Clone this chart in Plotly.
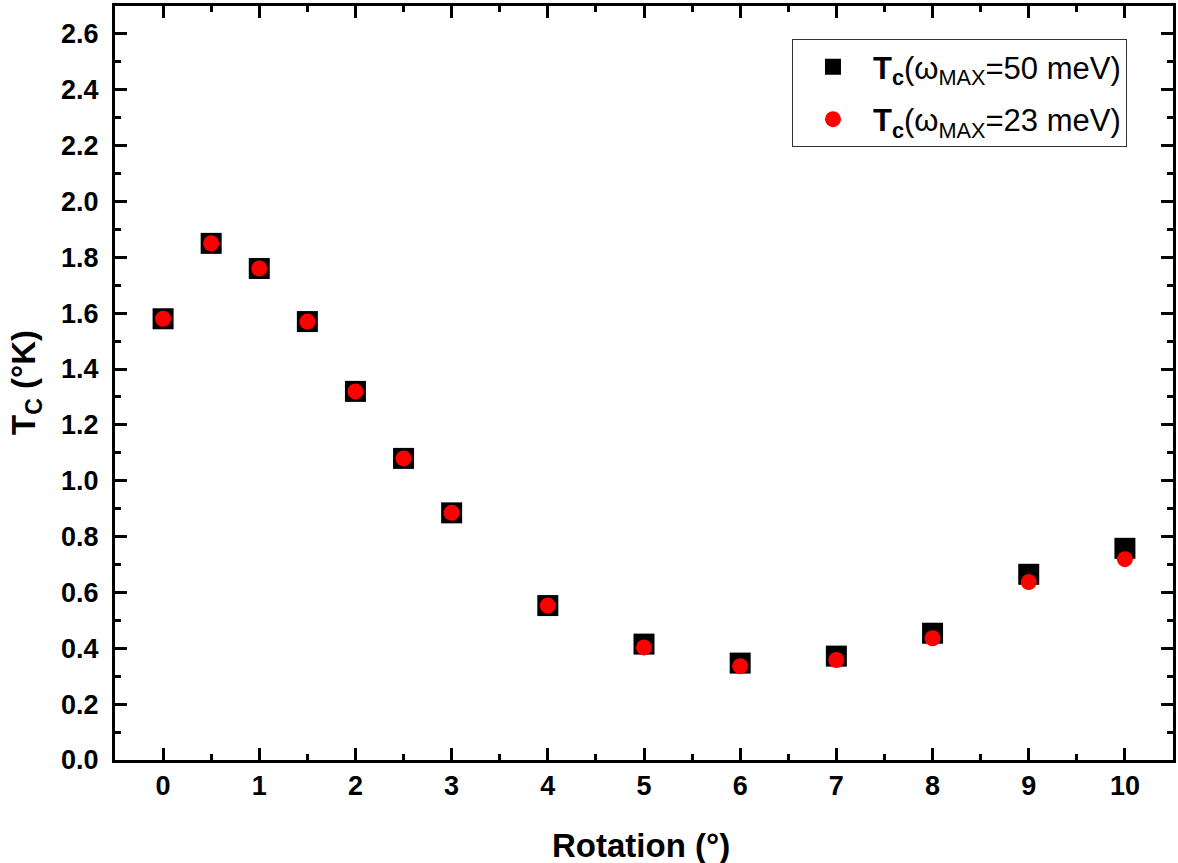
import plotly.graph_objects as go

rotation = [0, 0.5, 1, 1.5, 2, 2.5, 3, 4, 5, 6, 7, 8, 9, 10]
tc_50 = [1.58, 1.85, 1.76, 1.57, 1.32, 1.08, 0.885, 0.553, 0.415, 0.347, 0.372, 0.454, 0.665, 0.758]
tc_23 = [1.58, 1.85, 1.76, 1.57, 1.32, 1.08, 0.885, 0.553, 0.403, 0.336, 0.358, 0.436, 0.637, 0.719]

x_title = "<b>Rotation (°)</b>"
y_title = "<b>T<sub>C</sub> (°K)</b>"
legend_50 = "<b>T<sub>c</sub></b>(ω<sub>MAX</sub>=50 meV)"
legend_23 = "<b>T<sub>c</sub></b>(ω<sub>MAX</sub>=23 meV)"

FONT = "Arial, Liberation Sans, sans-serif"

fig = go.Figure()
fig.add_trace(go.Scatter(
    x=rotation, y=tc_50, mode="markers", name=legend_50, legendgroup="a",
    marker=dict(symbol="square", size=21, color="black", line=dict(width=0)),
))
fig.add_trace(go.Scatter(
    x=rotation, y=tc_23, mode="markers", name=legend_23, legendgroup="b",
    marker=dict(symbol="circle", size=16, color="#ff0000", line=dict(width=0)),
))

axis_common = dict(
    showline=True, linecolor="black", linewidth=3, mirror="ticks",
    ticks="inside", ticklen=12, tickwidth=3, tickcolor="black",
    showgrid=False, zeroline=False, automargin=False,
    tickfont=dict(family=FONT, size=27, color="black", weight="bold"),
)

fig.update_xaxes(
    range=[-0.5, 10.5], tick0=0, dtick=1,
    minor=dict(dtick=0.5, ticks="inside", ticklen=6, tickwidth=3, tickcolor="black", showgrid=False),
    ticklabelstandoff=0,
    **axis_common,
)
fig.update_yaxes(
    range=[0, 2.7], tick0=0, dtick=0.2, tickformat=".1f",
    minor=dict(dtick=0.1, ticks="inside", ticklen=6, tickwidth=3, tickcolor="black", showgrid=False),
    ticklabelstandoff=8,
    **axis_common,
)

fig.add_annotation(
    text=x_title, xref="paper", yref="paper", x=0.4972, y=-0.114,
    xanchor="center", yanchor="middle", showarrow=False,
    font=dict(family=FONT, size=33, color="black"),
)
fig.add_annotation(
    text=y_title, xref="paper", yref="paper", x=-0.0841, y=0.5,
    xanchor="center", yanchor="middle", showarrow=False, textangle=-90,
    font=dict(family=FONT, size=33, color="black"),
)

fig.update_layout(
    width=1178, height=863,
    margin=dict(l=115, r=5, t=6, b=103),
    plot_bgcolor="white", paper_bgcolor="white",
    font=dict(family=FONT, color="black"),
    showlegend=True,
    legend=dict(
        x=0.9565, y=0.956, xanchor="right", yanchor="top",
        bgcolor="white", bordercolor="#333333", borderwidth=1,
        font=dict(family=FONT, size=31, color="black"),
        itemsizing="trace", itemwidth=70, tracegroupgap=9,
    ),
)

fig.write_html("out.html", config={"displayModeBar": False},
               post_script="document.body.style.margin='0px';")
